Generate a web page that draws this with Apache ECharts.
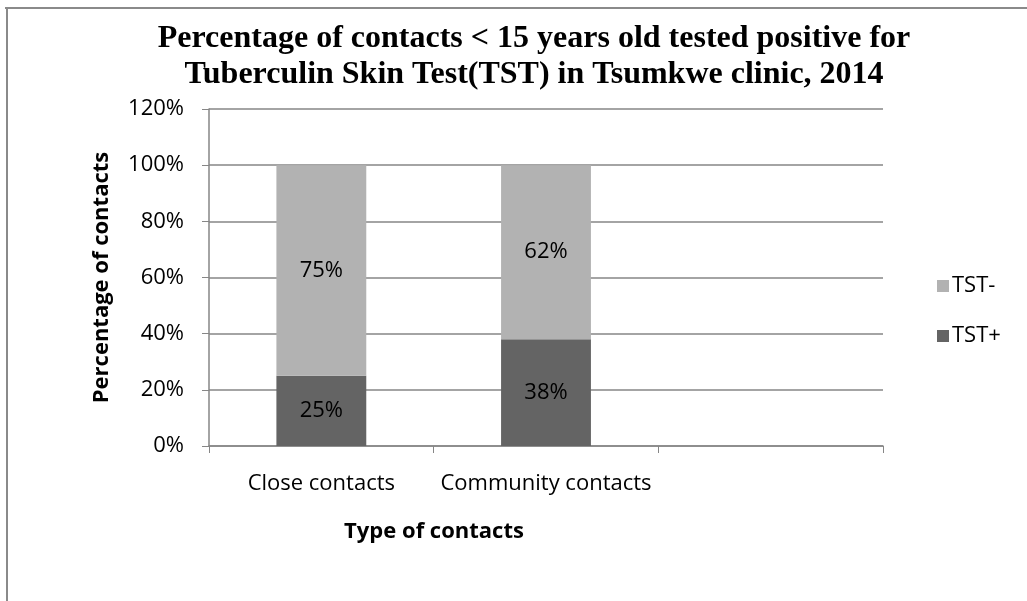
<!DOCTYPE html>
<html>
<head>
<meta charset="utf-8">
<script src="https://cdn.jsdelivr.net/npm/echarts@6/dist/echarts.min.js"></script>
<style>
html,body{margin:0;padding:0;background:#fff;}
#c{width:1027px;height:601px;}
</style>
</head>
<body>
<div id="c"></div>
<script>
const categories = ['Close contacts', 'Community contacts', ''];
const tstPos = [25, 38, null];
const tstNeg = [75, 62, null];
const posLabels = ['25%', '38%', ''];
const negLabels = ['75%', '62%', ''];
const yTicks = [0, 20, 40, 60, 80, 100, 120];

const chart = echarts.init(document.getElementById('c'), null, {renderer: 'canvas'});
const sans = '"Open Sans", "Liberation Sans", sans-serif';
const axisGrey = '#868686';
const fs = 22;

chart.setOption({
  backgroundColor: '#ffffff',
  animation: false,
  title: [
    {
      text: 'Percentage of contacts < 15 years old tested positive for\nTuberculin Skin Test(TST) in Tsumkwe clinic, 2014',
      left: 529, top: 16, textAlign: 'center',
      textStyle: {fontFamily: '"Liberation Serif", "DejaVu Serif", serif', fontWeight: 'bold', fontSize: 32, lineHeight: 36, color: '#000'}
    },
    {
      text: 'Type of contacts',
      left: 429, top: 516, textAlign: 'center',
      textStyle: {fontFamily: sans, fontWeight: 'bold', fontSize: fs, color: '#000'}
    }
  ],
  legend: {
    orient: 'vertical',
    left: 932, top: 270,
    itemWidth: 12, itemHeight: 12, itemGap: 28,
    icon: 'rect',
    data: ['TST-', 'TST+'],
    textStyle: {fontFamily: sans, fontSize: fs, color: '#000', padding: [0,0,0,-2]}
  },
  grid: {left: 209, right: 144, top: 109, bottom: 155},
  xAxis: {
    type: 'category',
    data: categories,
    axisLine: {lineStyle: {color: axisGrey, width: 1.5}},
    axisTick: {show: true, alignWithLabel: false, length: 7, lineStyle: {color: axisGrey}},
    axisLabel: {fontFamily: sans, fontSize: fs, color: '#000', margin: 27, interval: 0}
  },
  yAxis: {
    type: 'value',
    min: 0, max: 120, interval: 20,
    name: 'Percentage of contacts',
    nameLocation: 'middle',
    nameGap: 96,
    nameTextStyle: {fontFamily: sans, fontWeight: 'bold', fontSize: fs, color: '#000'},
    axisLine: {show: true, lineStyle: {color: axisGrey, width: 1.5}},
    axisTick: {show: true, length: 7, inside: false, lineStyle: {color: axisGrey}},
    axisLabel: {fontFamily: sans, fontSize: fs, color: '#000', margin: 25,
      formatter: v => yTicks.includes(v) ? v + '%' : ''},
    splitLine: {show: true, lineStyle: {color: axisGrey, width: 1.5}}
  },
  series: [
    {
      name: 'TST+', type: 'bar', stack: 'a', barWidth: '40%',
      data: tstPos,
      itemStyle: {color: '#646464'},
      label: {show: true, position: 'inside', fontFamily: sans, fontSize: fs, color: '#000',
        formatter: p => posLabels[p.dataIndex]}
    },
    {
      name: 'TST-', type: 'bar', stack: 'a', barWidth: '40%',
      data: tstNeg,
      itemStyle: {color: '#b2b2b2'},
      label: {show: true, position: 'inside', fontFamily: sans, fontSize: fs, color: '#000',
        formatter: p => negLabels[p.dataIndex]}
    }
  ],
  graphic: [
    {type: 'line', shape: {x1: 5, y1: 8, x2: 1027, y2: 8}, style: {stroke: '#8a8a8a', lineWidth: 2}},
    {type: 'line', shape: {x1: 7, y1: 8, x2: 7, y2: 601}, style: {stroke: '#8a8a8a', lineWidth: 2}}
  ]
});
</script>
</body>
</html>
